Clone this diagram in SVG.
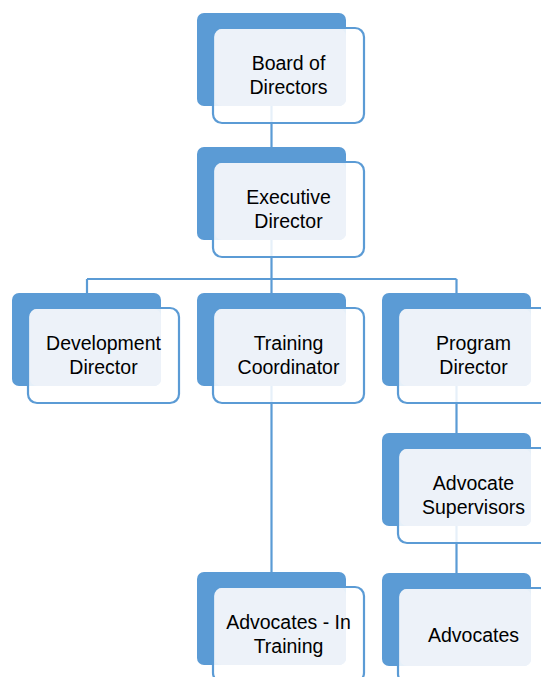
<svg xmlns="http://www.w3.org/2000/svg" width="541" height="677" viewBox="0 0 541 677">
  <defs>
    <style>
      .back { fill: #5B9BD5; }
      .face { fill: #EDF2F9; }
      .frame { fill: #FFFFFF; fill-opacity: 0.85; stroke: #5B9BD5; stroke-width: 2.2; }
      .link { fill: none; stroke: #5B9BD5; stroke-width: 2.2; }
      .label { font-family: "Liberation Sans", Arial, sans-serif; font-size: 19.5px; fill: #000000; text-anchor: middle; }
    </style>
    <!-- One box: blue backing card, framed card offset down-right, tinted face -->
    <g id="card">
      <rect class="back" x="0" y="0" width="149" height="93" rx="7"/>
      <rect class="frame" x="16" y="15" width="151" height="95" rx="9"/>
      <rect class="face" x="18" y="16" width="131" height="77" rx="7"/>
    </g>
  </defs>
  <rect width="541" height="677" fill="#FFFFFF"/>

  <g id="connectors">
    <path class="link" d="M271.5 100 V147"/>
    <path class="link" d="M271.5 234 V279 M87 279 H456.5 M87 279 V293 M271.5 279 V293 M456.5 279 V293"/>
    <path class="link" d="M271.5 380 V572"/>
    <path class="link" d="M456.5 380 V433"/>
    <path class="link" d="M456.5 520 V573"/>
  </g>

  <g id="board">
    <use href="#card" x="197" y="13"/>
    <text class="label" x="288.5" y="69.5">Board of</text>
    <text class="label" x="288.5" y="93.5">Directors</text>
  </g>
  <g id="executive">
    <use href="#card" x="197" y="147"/>
    <text class="label" x="288.5" y="203.5">Executive</text>
    <text class="label" x="288.5" y="227.5">Director</text>
  </g>
  <g id="development">
    <use href="#card" x="12" y="293"/>
    <text class="label" x="103.5" y="349.5">Development</text>
    <text class="label" x="103.5" y="373.5">Director</text>
  </g>
  <g id="training">
    <use href="#card" x="197" y="293"/>
    <text class="label" x="288.5" y="349.5">Training</text>
    <text class="label" x="288.5" y="373.5">Coordinator</text>
  </g>
  <g id="program">
    <use href="#card" x="382" y="293"/>
    <text class="label" x="473.5" y="349.5">Program</text>
    <text class="label" x="473.5" y="373.5">Director</text>
  </g>
  <g id="supervisors">
    <use href="#card" x="382" y="433"/>
    <text class="label" x="473.5" y="489.5">Advocate</text>
    <text class="label" x="473.5" y="513.5">Supervisors</text>
  </g>
  <g id="in-training">
    <use href="#card" x="197" y="572"/>
    <text class="label" x="288.5" y="628.5">Advocates - In</text>
    <text class="label" x="288.5" y="652.5">Training</text>
  </g>
  <g id="advocates">
    <use href="#card" x="382" y="573"/>
    <text class="label" x="473.5" y="642">Advocates</text>
  </g>
</svg>
